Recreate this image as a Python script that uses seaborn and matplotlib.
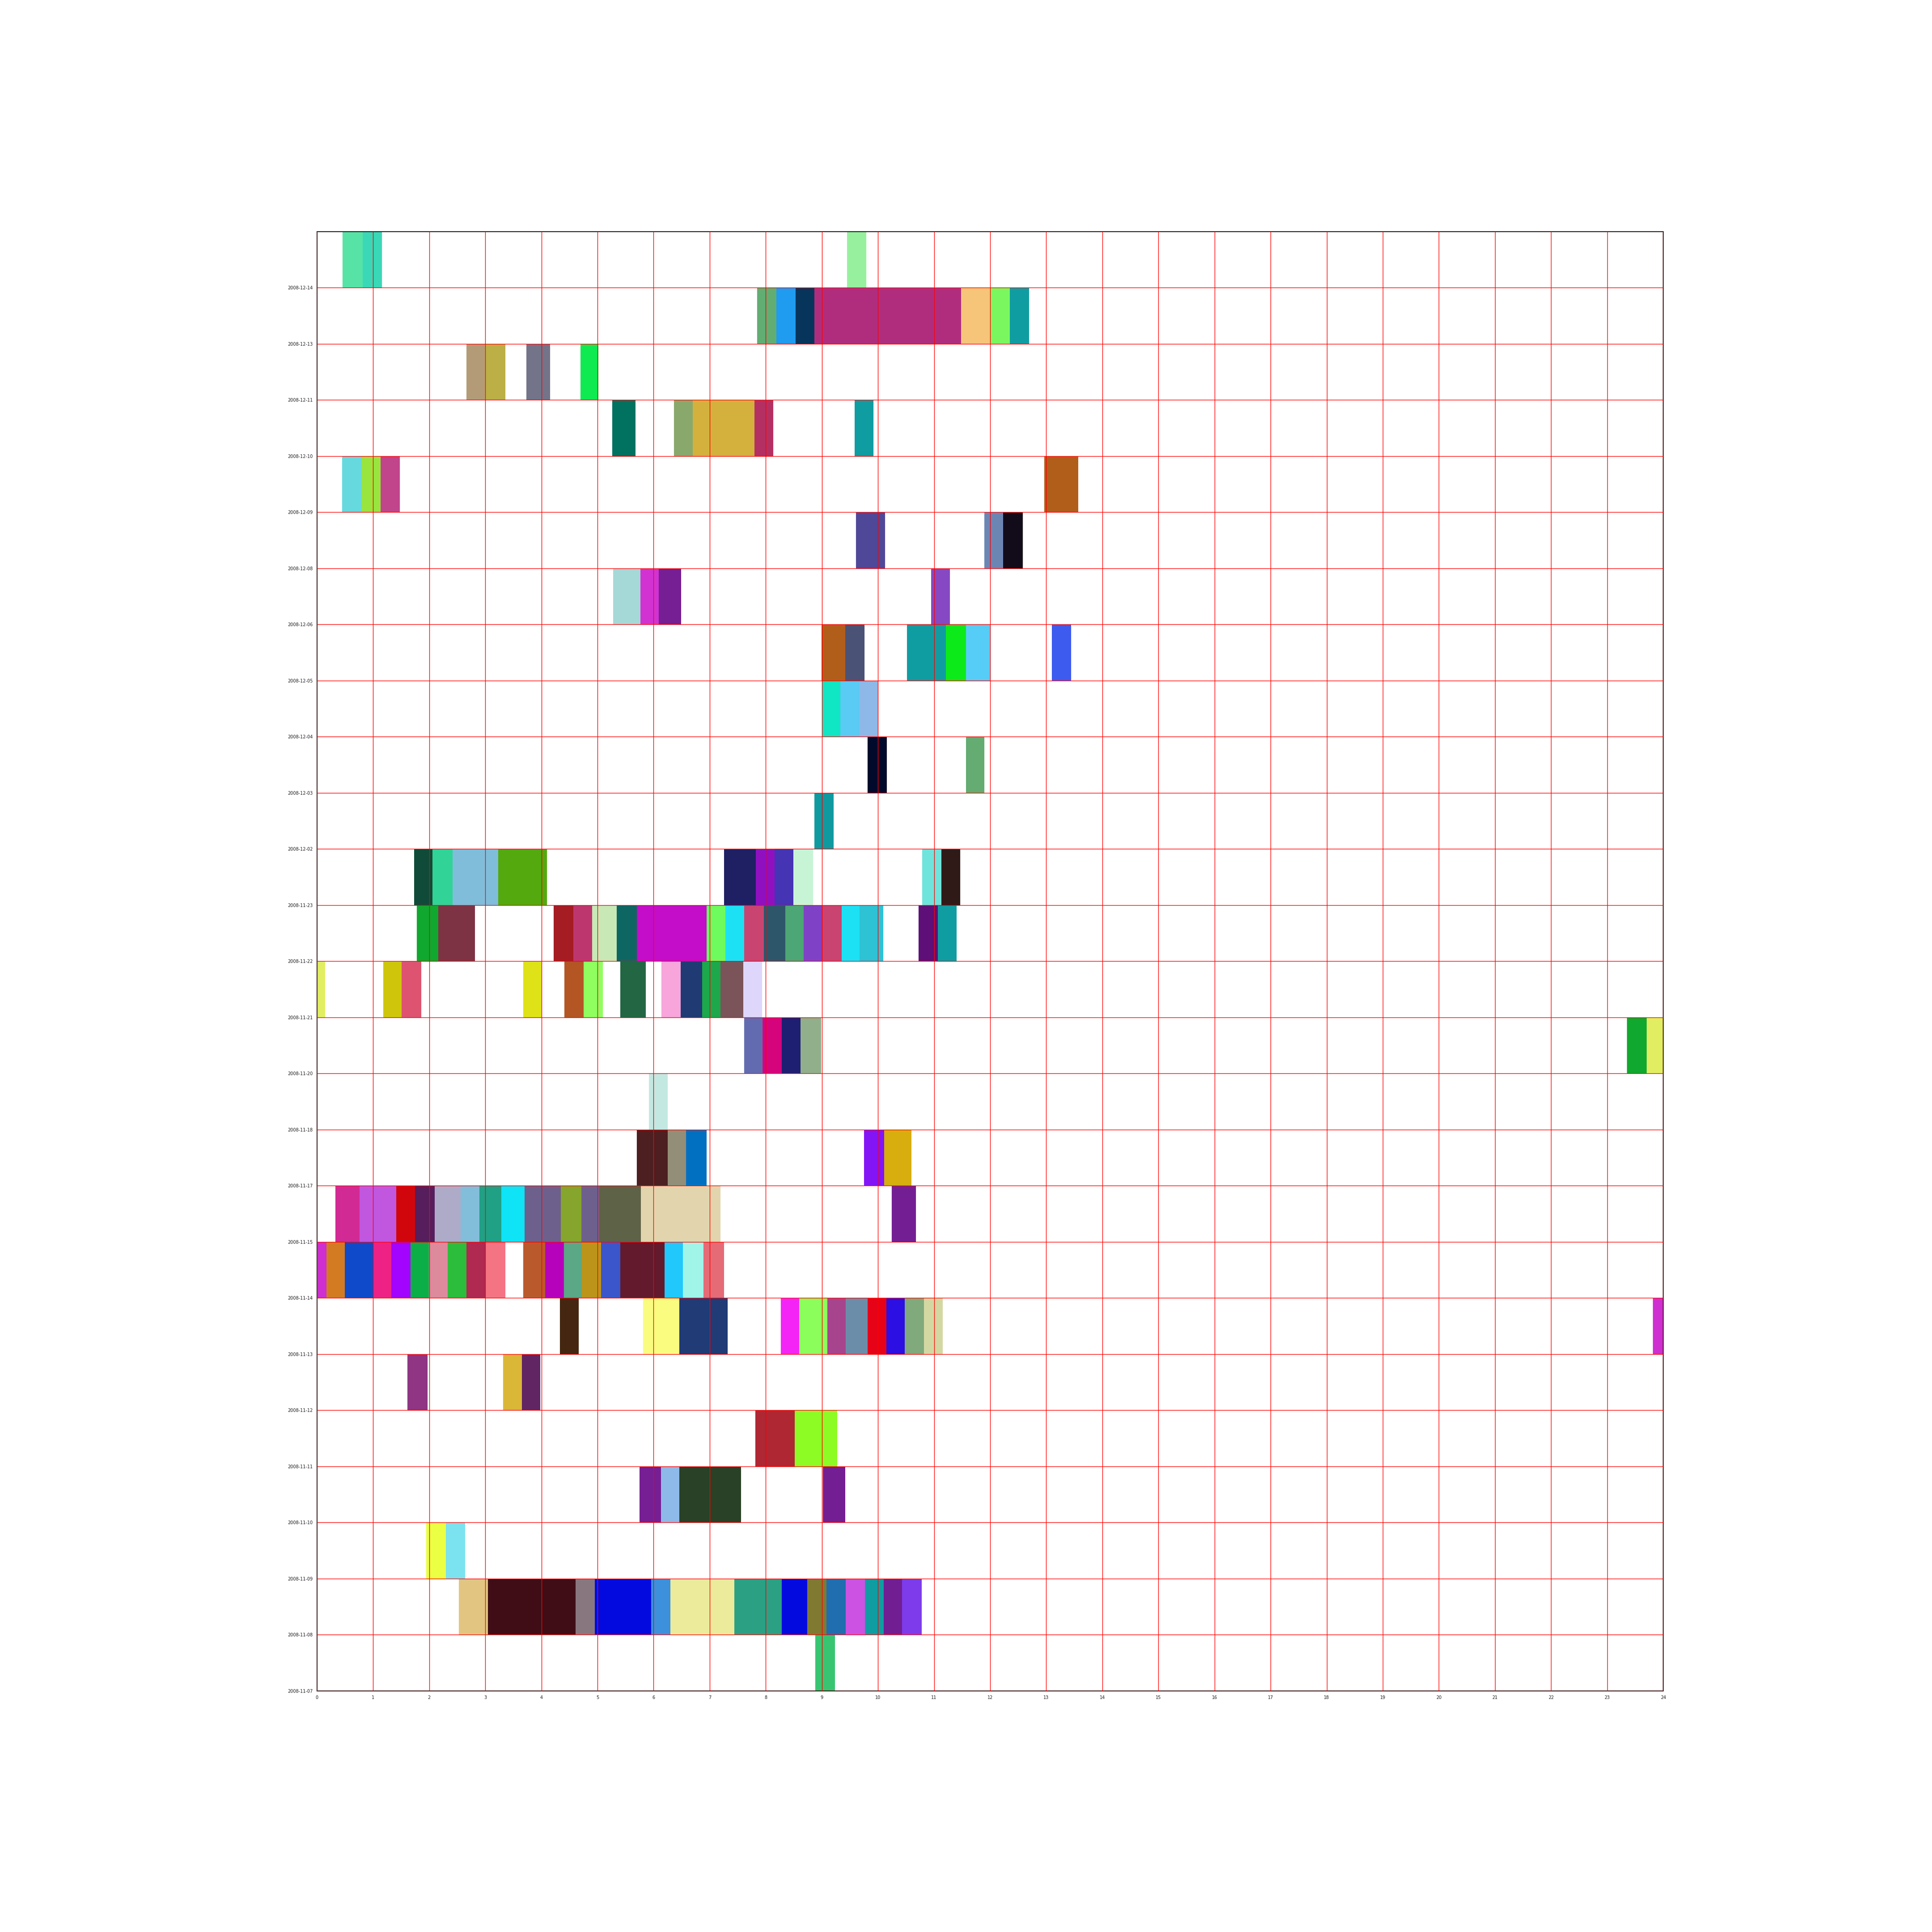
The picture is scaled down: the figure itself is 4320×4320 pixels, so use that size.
import numpy as np
import pandas as pd
import matplotlib
matplotlib.use("Agg")
import matplotlib.pyplot as plt
import seaborn as sns

# row labels, bottom to top
dates = ['2008-11-07', '2008-11-08', '2008-11-09', '2008-11-10', '2008-11-11',
         '2008-11-12', '2008-11-13', '2008-11-14', '2008-11-15', '2008-11-17',
         '2008-11-18', '2008-11-20', '2008-11-21', '2008-11-22', '2008-11-23',
         '2008-12-02', '2008-12-03', '2008-12-04', '2008-12-05', '2008-12-06',
         '2008-12-08', '2008-12-09', '2008-12-10', '2008-12-11', '2008-12-13',
         '2008-12-14']
hours = list(range(25))

# one entry per event: day, start hour, end hour, colour
bar_day = (['2008-12-14'] * 3 + ['2008-12-13'] * 7 + ['2008-12-11'] * 4 + ['2008-12-10'] * 5
           + ['2008-12-09'] * 4 + ['2008-12-08'] * 3 + ['2008-12-06'] * 4 + ['2008-12-05'] * 6
           + ['2008-12-04'] * 3 + ['2008-12-03'] * 2 + ['2008-12-02'] * 1 + ['2008-11-23'] * 10
           + ['2008-11-22'] * 18 + ['2008-11-21'] * 12 + ['2008-11-20'] * 6 + ['2008-11-18'] * 1
           + ['2008-11-17'] * 5 + ['2008-11-15'] * 14 + ['2008-11-14'] * 19 + ['2008-11-13'] * 12
           + ['2008-11-12'] * 3 + ['2008-11-11'] * 2 + ['2008-11-10'] * 4 + ['2008-11-09'] * 2
           + ['2008-11-08'] * 14 + ['2008-11-07'] * 1)

bar_start = [0.458, 0.815, 9.446,
             7.844, 8.192, 8.531, 8.870, 11.478, 12.009, 12.348,
             2.664, 2.993, 3.735, 4.696,
             5.263, 6.362, 6.700, 7.799, 9.584,
             0.449, 0.796, 1.135, 12.961,
             9.611, 11.899, 12.229,
             5.281, 5.767, 6.096, 10.947,
             8.998, 9.419, 10.517, 11.213, 11.570, 13.098,
             9.000, 9.327, 9.666,
             9.812, 11.570,
             8.870,
             1.730, 2.059, 2.416, 3.231, 7.259, 7.826, 8.156, 8.494, 10.792, 11.130,
             1.776, 2.160, 4.220, 4.568, 4.906, 5.346, 5.703, 6.947, 7.277, 7.616, 7.963, 8.348,
             8.677, 9.007, 9.355, 9.675, 10.728, 11.066,
             0.000, 1.181, 1.510, 3.680, 4.412, 4.751, 5.410, 6.142, 6.481, 6.865, 7.195, 7.597,
             7.616, 7.945, 8.284, 8.622, 23.354, 23.704,
             5.913,
             5.703, 6.252, 6.581, 9.748, 10.114,
             0.330, 0.760, 1.410, 1.748, 2.096, 2.563, 2.892, 3.286, 3.698, 4.348, 4.714, 5.034,
             5.776, 10.243,
             0.000, 0.165, 0.494, 1.007, 1.327, 1.666, 1.995, 2.325, 2.664, 3.002, 3.680, 4.064,
             4.403, 4.723, 5.062, 5.410, 6.197, 6.526, 6.892,
             4.330, 5.812, 6.462, 8.266, 8.595, 9.098, 9.428, 9.812, 10.151, 10.481, 10.819, 23.816,
             1.611, 3.314, 3.652,
             7.817, 8.513,
             5.748, 6.133, 6.462, 9.016,
             1.950, 2.297,
             2.526, 3.048, 4.613, 4.952, 5.959, 6.297, 7.442, 8.284, 8.741, 9.080, 9.428, 9.767,
             10.105, 10.426,
             8.879]

bar_end = [0.815, 1.153, 9.794,
           8.192, 8.531, 8.870, 11.478, 12.009, 12.348, 12.696,
           2.993, 3.359, 4.156, 5.016,
           5.675, 6.700, 7.799, 8.137, 9.922,
           0.796, 1.135, 1.474, 13.574,
           10.124, 12.229, 12.586,
           5.767, 6.096, 6.490, 11.286,
           9.419, 9.757, 11.213, 11.570, 12.009, 13.446,
           9.327, 9.666, 9.995,
           10.160, 11.899,
           9.208,
           2.059, 2.416, 3.231, 4.101, 7.826, 8.156, 8.494, 8.842, 11.130, 11.469,
           2.160, 2.819, 4.568, 4.906, 5.346, 5.703, 6.947, 7.277, 7.616, 7.963, 8.348, 8.677,
           9.007, 9.355, 9.675, 10.096, 11.066, 11.405,
           0.146, 1.510, 1.858, 4.009, 4.751, 5.098, 5.858, 6.481, 6.865, 7.195, 7.597, 7.936,
           7.945, 8.284, 8.622, 8.989, 23.704, 24.000,
           6.252,
           6.252, 6.581, 6.947, 10.114, 10.600,
           0.760, 1.410, 1.748, 2.096, 2.563, 2.892, 3.286, 3.698, 4.348, 4.714, 5.034, 5.776,
           7.195, 10.673,
           0.165, 0.494, 1.007, 1.327, 1.666, 1.995, 2.325, 2.664, 3.002, 3.359, 4.064, 4.403,
           4.723, 5.062, 5.410, 6.197, 6.526, 6.892, 7.259,
           4.668, 6.462, 7.323, 8.595, 9.098, 9.428, 9.812, 10.151, 10.481, 10.819, 11.158, 24.000,
           1.968, 3.652, 3.982,
           8.513, 9.272,
           6.133, 6.462, 7.561, 9.419,
           2.297, 2.636,
           3.048, 4.613, 4.952, 5.959, 6.297, 7.442, 8.284, 8.741, 9.080, 9.428, 9.767, 10.105,
           10.426, 10.783,
           9.236]

bar_color = ['#57E3A6', '#3AD8B6', '#97F09D',
             '#62AD72', '#1F9BEF', '#06345A', '#B02D7E', '#F6C57A', '#7AF75E', '#0F9DA2',
             '#B39B78', '#BCAF46', '#737389', '#0FEA50',
             '#017160', '#89A96C', '#D4B13D', '#B53062', '#0F9DA2',
             '#66D9DE', '#9AE43E', '#C1458B', '#B25E1B',
             '#4F4797', '#6C86B4', '#120C1A',
             '#A5D9D8', '#D232D1', '#761E93', '#8749C3',
             '#B25E1B', '#4A5275', '#0F9DA2', '#0DEA1A', '#56CDF6', '#3E5BEF',
             '#10E5C4', '#59CBF5', '#8DB8E8',
             '#020A2C', '#64AC72',
             '#0F9AA0',
             '#0F4B38', '#31D396', '#80BDDA', '#54A90E', '#1F1F64', '#9010C0', '#4534B3', '#C8F4D6',
             '#6FE4DC', '#2F1A18',
             '#10A82E', '#7D3344', '#A51C22', '#BD376E', '#C8E8B6', '#0E6662', '#C30DC8', '#6EFB5E',
             '#1CE1F5', '#C94470', '#2E566A', '#4DA675', '#7F42C6', '#C94470', '#1CE1F5', '#2EC2D5',
             '#5E0F78', '#0F9DA2',
             '#E2EE62', '#CFC60C', '#DE5470', '#DFE217', '#B45524', '#90FE5F', '#236644', '#F7A5DB',
             '#203A73', '#1CA84B', '#7B5459', '#DFD6FB',
             '#636BB0', '#D6047C', '#1E1F73', '#92AF8C', '#10A82E', '#E2EE62',
             '#C3E8E2',
             '#4D1F20', '#938E77', '#0270C0', '#8314F6', '#D7AE0D',
             '#D22A94', '#C157DE', '#D1060C', '#561E5C', '#AEABC9', '#82BEDA', '#20A084', '#0EE4F6',
             '#6E608C', '#86A52C', '#6E608C', '#5E6247', '#E2D5AD', '#741E93',
             '#CF2ED1', '#D37B23', '#0F4ACB', '#EE2284', '#A204FD', '#0CAE48', '#DC8A9C', '#2BBD3B',
             '#AF2950', '#F47483', '#BA5A2C', '#B702BC', '#5AA886', '#BC9419', '#3A56CA', '#621A2C',
             '#20C8FB', '#A0F5E8', '#E56B76',
             '#452711', '#FAFC80', '#203B75', '#F424F7', '#8BFE5C', '#A7448E', '#6B8DAA', '#E60318',
             '#2B0FE3', '#80AA7B', '#D3D8A3', '#CF2ED1',
             '#8F3584', '#DAB737', '#612563',
             '#AE2733', '#8DFB24',
             '#761E93', '#8EBAE9', '#294126', '#741E93',
             '#EBFF43', '#7AE3EF',
             '#E2C581', '#400D16', '#89777F', '#030AE0', '#3C90DC', '#ECEA9B', '#2BA083', '#030AE0',
             '#807931', '#206EB0', '#CC52E3', '#0F9DA2', '#721E93', '#7D3BEB',
             '#38C572']

sns.set_style("white")
plt.rcParams['font.family'] = ['DejaVu Sans']

df = pd.DataFrame({'day': bar_day, 'start': bar_start, 'end': bar_end, 'color': bar_color})
df['row'] = df['day'].map({d: i for i, d in enumerate(dates)})
df['dur'] = df['end'] - df['start']

fig, ax = plt.subplots(figsize=(43.2, 43.2), dpi=100)
fig.subplots_adjust(left=0.1641, right=0.8609, bottom=0.1248, top=0.8801)

ax.barh(df['row'], df['dur'], left=df['start'], height=1, align='edge',
        color=df['color'], linewidth=0)

ax.set_xlim(0, 24)
ax.set_ylim(0, len(dates))
ax.set_xticks(hours)
ax.set_xticklabels([str(h) for h in hours], fontsize=7)
ax.set_yticks(range(len(dates)))
ax.set_yticklabels(dates, fontsize=7)
ax.set_axisbelow(False)
ax.grid(True, color='red', linewidth=1)
ax.tick_params(axis='both', length=3.5, width=0.8, colors='#222222')
for s in ax.spines.values():
    s.set_visible(True)
    s.set_color('#222222')
    s.set_linewidth(1.5)

fig.savefig('out.png', dpi=100)
